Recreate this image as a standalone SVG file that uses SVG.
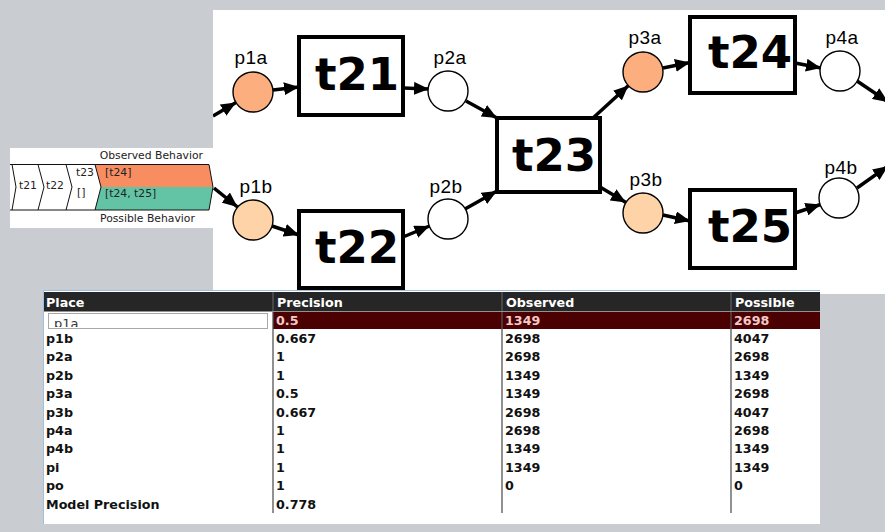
<svg xmlns="http://www.w3.org/2000/svg" width="885" height="532" viewBox="0 0 885 532">
  <style>
    .place { stroke: #000; stroke-width: 1.4; }
    .pw { fill: #fff; }
    .po { fill: #fdae7e; }
    .pl { fill: #fed3a8; }
    .trans { fill: #fff; stroke: #000; stroke-width: 4; }
    .tlab { font-family: "DejaVu Sans", sans-serif; font-weight: bold; font-size: 45px; fill: #000; text-anchor: middle; }
    .plab { font-family: "Liberation Sans", Arial, sans-serif; font-size: 19px; fill: #000; text-anchor: middle; letter-spacing: 0.5px; }
    .arc { stroke: #000; stroke-width: 3.5; fill: none; marker-end: url(#ah); }
    .lg { font-family: "DejaVu Sans", sans-serif; font-size: 10.8px; fill: #222; }
    .lgc { stroke: #111; stroke-width: 1; fill: none; }
    .th { font-family: "DejaVu Sans", sans-serif; font-weight: bold; font-size: 12.7px; fill: #fff; }
    .td { font-family: "DejaVu Sans", sans-serif; font-weight: bold; font-size: 12.7px; fill: #111; }
    .ts { font-family: "DejaVu Sans", sans-serif; font-weight: bold; font-size: 12.7px; fill: #f3c9c9; }
    .col { stroke: #555; stroke-width: 1.3; }
  </style>
  <defs>
    <marker id="ah" markerUnits="userSpaceOnUse" markerWidth="15" markerHeight="13" refX="15" refY="6.5" orient="auto">
      <path d="M0,0 L15,6.5 L0,13 z" fill="#000"/>
    </marker>
    <clipPath id="netClip"><rect x="213" y="10" width="672" height="284"/></clipPath>
    <clipPath id="cellClip"><rect x="49" y="314" width="218" height="13"/></clipPath>
  </defs>

  <!-- window background -->
  <rect x="0" y="0" width="885" height="532" fill="#c9ccd1"/>

  <!-- Petri net canvas -->
  <rect x="213" y="10" width="672" height="284" fill="#fff"/>
  <g clip-path="url(#netClip)">
    <g id="connectors">
      <line class="arc" x1="213" y1="116" x2="236" y2="102.5"/>
      <line class="arc" x1="273" y1="90" x2="299" y2="87"/>
      <line class="arc" x1="403" y1="88" x2="429" y2="89"/>
      <line class="arc" x1="466" y1="101" x2="497" y2="118"/>
      <line class="arc" x1="214" y1="188" x2="237.5" y2="207"/>
      <line class="arc" x1="272" y1="226" x2="299" y2="235"/>
      <line class="arc" x1="403" y1="237" x2="429.5" y2="226"/>
      <line class="arc" x1="465" y1="209" x2="497" y2="191"/>
      <line class="arc" x1="593" y1="118" x2="628.5" y2="85.5"/>
      <line class="arc" x1="663" y1="68" x2="690" y2="62.5"/>
      <line class="arc" x1="795" y1="63" x2="821" y2="68"/>
      <line class="arc" x1="857" y1="81" x2="888" y2="102"/>
      <line class="arc" x1="600" y1="187" x2="626" y2="202.5"/>
      <line class="arc" x1="663" y1="215" x2="690" y2="221"/>
      <line class="arc" x1="795" y1="213" x2="820.5" y2="204.5"/>
      <line class="arc" x1="857" y1="188" x2="888" y2="166"/>
    </g>

    <g id="p1a"><circle class="place po" cx="253" cy="92" r="20"/><text class="plab" x="251" y="64">p1a</text></g>
    <g id="p1b"><circle class="place pl" cx="253" cy="220" r="20"/><text class="plab" x="256" y="193">p1b</text></g>
    <g id="p2a"><circle class="place pw" cx="448" cy="91" r="20"/><text class="plab" x="450" y="64">p2a</text></g>
    <g id="p2b"><circle class="place pw" cx="448" cy="219" r="20"/><text class="plab" x="446" y="193">p2b</text></g>
    <g id="p3a"><circle class="place po" cx="643" cy="72" r="20"/><text class="plab" x="645" y="44">p3a</text></g>
    <g id="p3b"><circle class="place pl" cx="643" cy="213" r="20"/><text class="plab" x="646" y="186">p3b</text></g>
    <g id="p4a"><circle class="place pw" cx="840" cy="71" r="20"/><text class="plab" x="842" y="44">p4a</text></g>
    <g id="p4b"><circle class="place pw" cx="839" cy="198" r="20"/><text class="plab" x="841" y="174">p4b</text></g>

    <g id="t21"><rect class="trans" x="299" y="37" width="104" height="78"/><text class="tlab" x="357" y="90">t21</text></g>
    <g id="t22"><rect class="trans" x="299" y="211" width="104" height="77"/><text class="tlab" x="357" y="263">t22</text></g>
    <g id="t23"><rect class="trans" x="497" y="118" width="103" height="74"/><text class="tlab" x="554" y="171">t23</text></g>
    <g id="t24"><rect class="trans" x="690" y="17" width="105" height="76"/><text class="tlab" x="750" y="68">t24</text></g>
    <g id="t25"><rect class="trans" x="690" y="190" width="105" height="78"/><text class="tlab" x="750" y="242">t25</text></g>
  </g>

  <!-- trace legend -->
  <g id="legend">
    <rect x="10" y="148" width="203" height="80" fill="#fff"/>
    <text class="lg" x="203" y="159" text-anchor="end">Observed Behavior</text>
    <polygon points="95,164.5 209,164.5 213,187 101,187" fill="#f88d62"/>
    <polygon points="101,187 213,187 209,210 95,210" fill="#62c4a4"/>
    <line class="lgc" x1="10" y1="164.5" x2="209" y2="164.5"/>
    <line class="lgc" x1="10" y1="210" x2="209" y2="210"/>
    <polyline class="lgc" points="12,164.5 16,187 12,210"/>
    <polyline class="lgc" points="38,164.5 44,187 38,210"/>
    <polyline class="lgc" points="66,164.5 72,187 66,210"/>
    <polyline class="lgc" points="95,164.5 101,187 95,210"/>
    <polyline class="lgc" points="209,164.5 213,187 209,210"/>
    <text class="lg" x="19" y="189">t21</text>
    <text class="lg" x="46" y="189">t22</text>
    <text class="lg" x="76" y="176">t23</text>
    <text class="lg" x="77" y="196">[]</text>
    <text class="lg" x="105" y="176" fill="#5a2a10">[t24]</text>
    <text class="lg" x="105" y="197" fill="#0f3a2c">[t24, t25]</text>
    <text class="lg" x="100" y="222">Possible Behavior</text>
  </g>

  <!-- precision table -->
  <g id="table">
    <rect x="43" y="290" width="777" height="234" fill="#fff"/>
    <line x1="43" y1="290.5" x2="820" y2="290.5" stroke="#9fbfdc" stroke-width="1"/>
    <line x1="43.5" y1="290" x2="43.5" y2="524" stroke="#9fbfdc" stroke-width="1"/>
    <rect x="44" y="292" width="776" height="19.5" fill="#262626"/>
    <line x1="273" y1="292" x2="273" y2="311" stroke="#6a6a6a"/>
    <line x1="502" y1="292" x2="502" y2="311" stroke="#6a6a6a"/>
    <line x1="731" y1="292" x2="731" y2="311" stroke="#6a6a6a"/>
    <text class="th" x="46" y="307">Place</text>
    <text class="th" x="277" y="307">Precision</text>
    <text class="th" x="506" y="307">Observed</text>
    <text class="th" x="735" y="307">Possible</text>

    <!-- selected row, place cell in edit mode -->
    <rect x="273" y="312" width="547" height="17" fill="#4b0101"/>
    <rect x="48.5" y="313.5" width="219" height="15" fill="#fff" stroke="#a8a8a8"/>
    <text x="54" y="328" clip-path="url(#cellClip)" font-family="DejaVu Sans, sans-serif" font-size="13" fill="#333">p1a</text>
    <text class="ts" x="276" y="325">0.5</text>
    <text class="ts" x="505" y="325">1349</text>
    <text class="ts" x="734" y="325">2698</text>

    <line class="col" x1="273" y1="312" x2="273" y2="513"/>
    <line class="col" x1="502" y1="312" x2="502" y2="513"/>
    <line class="col" x1="731" y1="312" x2="731" y2="513"/>

    <g class="td">
      <text x="46" y="343">p1b</text><text x="276" y="343">0.667</text><text x="505" y="343">2698</text><text x="734" y="343">4047</text>
      <text x="46" y="361.4">p2a</text><text x="276" y="361.4">1</text><text x="505" y="361.4">2698</text><text x="734" y="361.4">2698</text>
      <text x="46" y="379.8">p2b</text><text x="276" y="379.8">1</text><text x="505" y="379.8">1349</text><text x="734" y="379.8">1349</text>
      <text x="46" y="398.2">p3a</text><text x="276" y="398.2">0.5</text><text x="505" y="398.2">1349</text><text x="734" y="398.2">2698</text>
      <text x="46" y="416.6">p3b</text><text x="276" y="416.6">0.667</text><text x="505" y="416.6">2698</text><text x="734" y="416.6">4047</text>
      <text x="46" y="435">p4a</text><text x="276" y="435">1</text><text x="505" y="435">2698</text><text x="734" y="435">2698</text>
      <text x="46" y="453.4">p4b</text><text x="276" y="453.4">1</text><text x="505" y="453.4">1349</text><text x="734" y="453.4">1349</text>
      <text x="46" y="471.8">pi</text><text x="276" y="471.8">1</text><text x="505" y="471.8">1349</text><text x="734" y="471.8">1349</text>
      <text x="46" y="490.2">po</text><text x="276" y="490.2">1</text><text x="505" y="490.2">0</text><text x="734" y="490.2">0</text>
      <text x="46" y="508.6">Model Precision</text><text x="276" y="508.6">0.778</text>
    </g>
  </g>
</svg>
